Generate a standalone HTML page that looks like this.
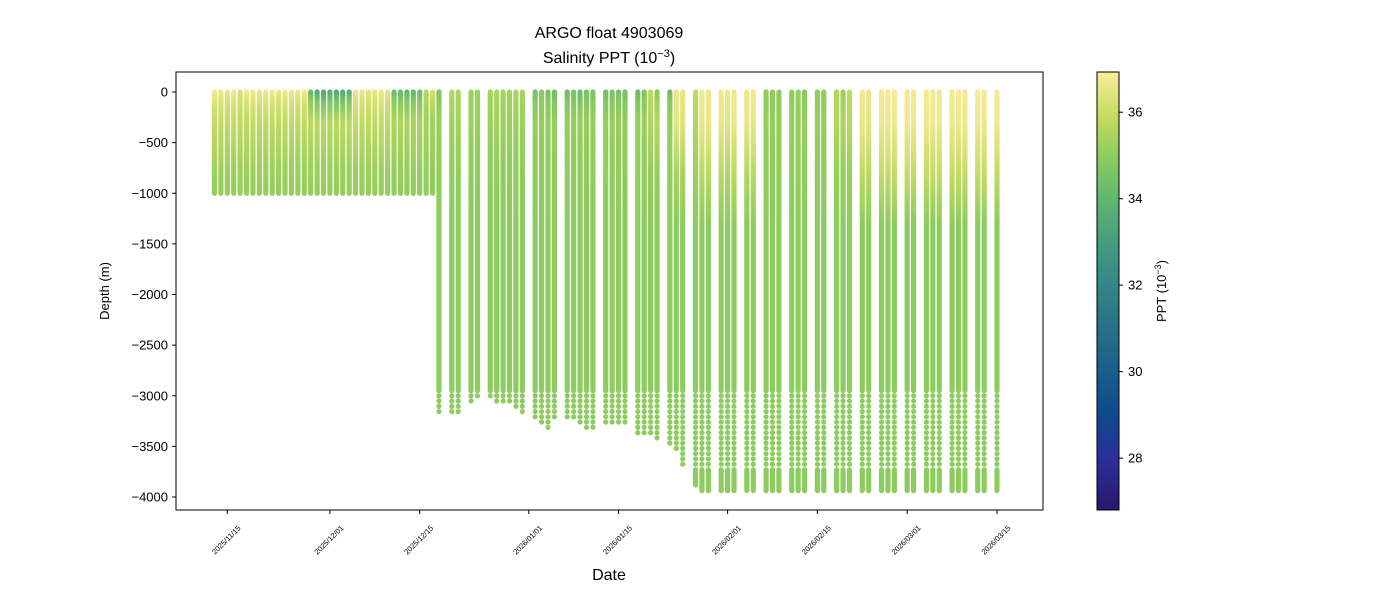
<!DOCTYPE html>
<html><head><meta charset="utf-8"><style>
body{margin:0;background:#fff;font-family:"Liberation Sans","DejaVu Sans",sans-serif}
svg{display:block}
</style></head><body>
<svg id="chart" width="1400" height="600" xmlns="http://www.w3.org/2000/svg" font-family="Liberation Sans, DejaVu Sans, sans-serif">
<defs>
<linearGradient id="cbar" x1="0" y1="1" x2="0" y2="0">
<stop offset="0" stop-color="#2a186c"/><stop offset="0.12" stop-color="#2a2f9c"/><stop offset="0.22" stop-color="#0e4a8d"/><stop offset="0.32" stop-color="#1a5f8a"/><stop offset="0.42" stop-color="#287287"/><stop offset="0.52" stop-color="#348885"/><stop offset="0.62" stop-color="#46a07e"/><stop offset="0.72" stop-color="#65b96e"/><stop offset="0.82" stop-color="#94cf5b"/><stop offset="0.9" stop-color="#c6dc62"/><stop offset="1" stop-color="#fbec9a"/>
</linearGradient>
<clipPath id="plotclip"><rect x="176" y="72" width="867" height="438"/></clipPath>
</defs>
<text x="609" y="38" font-size="16" text-anchor="middle">ARGO float 4903069</text>
<text x="609" y="63" font-size="16" text-anchor="middle">Salinity PPT (10<tspan dy="-6" font-size="11">−3</tspan><tspan dy="6">)</tspan></text>
<g id="marks" clip-path="url(#plotclip)"></g>
<rect x="176" y="72" width="867" height="438" fill="none" stroke="#000" stroke-width="1"/>
<g id="yaxis"></g>
<g id="xaxis"></g>
<text transform="translate(109,291) rotate(-90)" font-size="13" text-anchor="middle">Depth (m)</text>
<text x="609" y="580" font-size="16" text-anchor="middle">Date</text>
<rect x="1097" y="72" width="22" height="438" fill="url(#cbar)" stroke="#000" stroke-width="1"/>
<g id="cbaxis"></g>
<text transform="translate(1166,291) rotate(-90)" font-size="13" text-anchor="middle">PPT (10<tspan dy="-5" font-size="9">−3</tspan><tspan dy="5">)</tspan></text>
</svg>
<script>
// data: days since 2025-11-15, profile max depth (m), salinity at 0/300/800 m
const days = [-2,-1,0,1,2,3,4,5,6,7,8,9,10,11,12,13,14,15,16,17,18,19,20,21,22,23,24,25,26,27,28,29,30,31,32,
33,35,36,38,39,41,42,43,44,45,46,48,49,50,51,53,54,55,56,57,59,60,61,62,64,65,66,67,69,70,71,73,74,75,77,78,79,81,82,84,85,86,88,89,90,92,93,95,96,97,99,100,102,103,104,106,107,109,110,111,113,114,115,117,118,120,121];
const maxDepth = [1000,1000,1000,1000,1000,1000,1000,1000,1000,1000,1000,1000,1000,1000,1000,1000,1000,1000,1000,1000,1000,1000,1000,1000,1000,1000,1000,1000,1000,1000,1000,1000,1000,1000,1000,
3190,3175,3165,3075,3040,3050,3065,3080,3100,3125,3165,3225,3310,3350,3255,3255,3225,3270,3320,3345,3310,3290,3300,3310,3370,3378,3390,3420,3477,3570,3690,3880,3937,3937,3937,3937,3937,3937,3937,3937,3937,3937,3937,3937,3937,3937,3937,3937,3937,3937,3937,3937,3937,3937,3937,3937,3937,3937,3937,3937,3937,3937,3937,3937,3937,3937];
const surfSal = [36.7,36.7,36.6,36.7,36.3,36.7,36.7,36.6,36.7,36.7,36.6,36.7,36.7,36.6,36.7,34.3,33.6,33.5,33.6,33.5,33.6,33.8,36.6,36.6,36.5,36.5,36.6,36.5,34.3,34.2,34.0,34.2,34.3,35.6,36.2,
34.6,35.6,35.6,35.2,35.2,35.4,35.5,35.4,35.4,35.5,35.4,34.5,34.8,34.5,34.3,34.3,34.5,34.3,34.5,34.6,34.3,34.6,34.5,34.5,34.3,34.6,35.8,34.9,34.3,36.6,36.6,35.8,36.7,36.7,36.7,36.7,36.7,36.7,36.7,35.0,34.9,35.0,35.0,35.2,34.9,35.0,35.0,35.6,35.2,35.8,36.7,36.6,36.8,36.8,36.8,36.8,36.8,36.8,36.8,36.8,36.8,36.8,36.8,36.8,36.8,36.8,36.8];
const sal300 = [35.9,35.9,35.8,35.9,35.8,35.8,35.9,35.8,35.8,35.8,35.8,35.8,35.8,35.8,35.8,35.7,35.7,35.7,35.7,35.7,35.7,35.7,35.9,35.8,35.8,35.8,35.9,35.8,35.5,35.5,35.5,35.5,35.4,35.3,35.3,
35.2,35.3,35.3,35.2,35.2,35.2,35.3,35.2,35.2,35.2,35.2,35.1,35.1,35.1,35.1,35.1,35.1,35.1,35.1,35.1,35.1,35.1,35.1,35.1,35.1,35.2,35.6,35.6,35.1,36.5,36.4,35.6,36.6,36.6,36.6,36.5,36.6,36.6,36.6,35.1,35.1,35.1,35.1,35.1,35.1,35.1,35.1,35.6,35.5,35.7,36.6,36.5,36.7,36.7,36.7,36.7,36.7,36.7,36.7,36.7,36.7,36.7,36.7,36.7,36.7,36.7,36.7];
const sal800 = [35.2,35.2,35.2,35.2,35.2,35.2,35.2,35.2,35.2,35.2,35.2,35.2,35.2,35.2,35.2,35.2,35.2,35.2,35.2,35.2,35.2,35.2,35.2,35.2,35.2,35.2,35.2,35.2,35.1,35.1,35.1,35.1,35.1,35.1,35.1,
35.0,35.0,35.0,35.0,35.0,35.0,35.0,35.0,35.0,35.0,35.0,35.0,35.0,35.0,35.0,35.0,35.0,35.0,35.0,35.0,35.0,35.0,35.0,35.0,35.0,35.0,35.1,35.1,35.0,35.4,35.4,35.2,35.7,35.7,35.7,35.6,35.7,35.6,35.7,35.0,35.0,35.0,35.0,35.0,35.0,35.0,35.0,35.1,35.1,35.2,35.8,35.7,35.9,35.9,35.9,35.9,35.9,35.9,35.9,35.9,35.9,35.9,35.9,35.9,35.9,35.9,35.9];
const deepSal = 34.95;
const yTicks = [0,-500,-1000,-1500,-2000,-2500,-3000,-3500,-4000];
const xTickDays = [0,16,30,47,61,78,92,106,120];
const xTickLabels = ["2025/11/15","2025/12/01","2025/12/15","2026/01/01","2026/01/15","2026/02/01","2026/02/15","2026/03/01","2026/03/15"];
const cTicks = [28,30,32,34,36];

const NS="http://www.w3.org/2000/svg";
const X = d => 227.3 + d*6.414;
const Y = v => 92 + (-v)*0.10125;
const CMIN=26.8, CMAX=36.93;
const CY = s => 510 - (s-CMIN)/(CMAX-CMIN)*438;
const stops=[[0,[42,24,108]],[0.12,[42,47,156]],[0.22,[14,74,141]],[0.32,[26,95,138]],[0.42,[40,114,135]],[0.52,[52,136,133]],[0.62,[70,160,126]],[0.72,[101,185,110]],[0.82,[148,207,91]],[0.9,[198,220,98]],[1,[251,236,154]]];
function color(s){let t=Math.max(0,Math.min(1,(s-CMIN)/(CMAX-CMIN)));
 for(let i=1;i<stops.length;i++){if(t<=stops[i][0]){const a=stops[i-1],b=stops[i];const f=(t-a[0])/(b[0]-a[0]);
 return 'rgb('+a[1].map((c,k)=>Math.round(c+(b[1][k]-c)*f)).join(',')+')';}}return 'rgb(251,236,154)';}
function el(tag,attrs,parent){const e=document.createElementNS(NS,tag);for(const k in attrs)e.setAttribute(k,attrs[k]);parent.appendChild(e);return e;}

const marks=document.getElementById('marks');
const defs=document.querySelector('defs');
const W=5.2;
days.forEach((d,i)=>{
 const x=X(d); const md=maxDepth[i];
 const g=el('linearGradient',{id:'pg'+i,gradientUnits:'userSpaceOnUse',x1:0,y1:Y(0),x2:0,y2:Y(-1300)},defs);
 [[0,surfSal[i]],[100/1300,(surfSal[i]+sal300[i])/2],[300/1300,sal300[i]],[800/1300,sal800[i]],[1,deepSal]].forEach(s=>el('stop',{offset:s[0],'stop-color':color(s[1])},g));
 const contEnd = md>3000 ? 2950 : md;
 const r=el('rect',{x:x-W/2,y:Y(0)-2.6,width:W,height:Y(-contEnd)-Y(0)+5.2,rx:2.6,fill:'url(#pg'+i+')'},marks);
 
 
 if(md>3000){
  const dotEnd=Math.min(md,3720);
  for(let z=3000;z<=dotEnd;z+=52){
   const c=el('circle',{cx:x,cy:Y(-z),r:2.6,fill:color(deepSal)},marks);
   
   
  }
  if(md>3720){
   const b=el('rect',{x:x-W/2,y:Y(-3730)-2.6,width:W,height:Y(-md)-Y(-3730)+5.2,rx:2.6,fill:color(deepSal)},marks);
   
   
  }
 }
});

const ya=document.getElementById('yaxis');
yTicks.forEach(v=>{
 const t=el('line',{x1:172,x2:176,y1:Y(v),y2:Y(v),stroke:'#000'},ya);
 
 
 const l=el('text',{x:168,y:Y(v)+4.5,'font-size':13,'text-anchor':'end'},ya);
 l.textContent=v===0?'0':'−'+(-v);
 
 
});
const xa=document.getElementById('xaxis');
xTickDays.forEach((d,i)=>{
 const x=X(d);
 const t=el('line',{x1:x,x2:x,y1:510,y2:514,stroke:'#000'},xa);
 
 
 const l=el('text',{x:0,y:2.5,'font-size':7.5,'text-anchor':'middle',transform:'translate('+(x-1)+',540) rotate(-45)'},xa);
 l.textContent=xTickLabels[i];
 
 
});
const ca=document.getElementById('cbaxis');
cTicks.forEach(v=>{
 const y=CY(v);
 const t=el('line',{x1:1119,x2:1123,y1:y,y2:y,stroke:'#000'},ca);
 
 
 const l=el('text',{x:1128,y:y+4.5,'font-size':13},ca);
 l.textContent=v;
 
 
});
</script>
</body></html>
